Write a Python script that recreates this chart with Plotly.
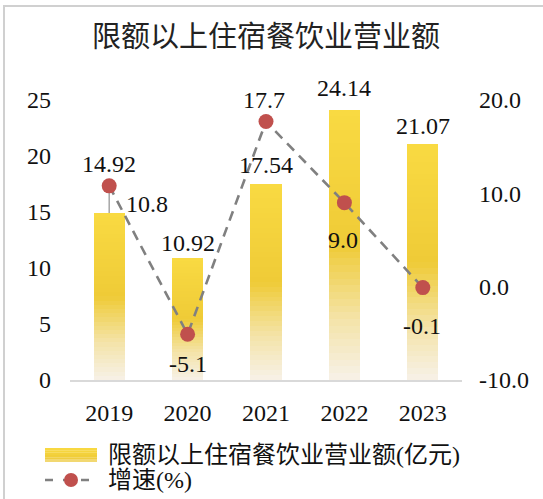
import plotly.graph_objects as go

years = [2019, 2020, 2021, 2022, 2023]
year_labels = ["2019", "2020", "2021", "2022", "2023"]
revenue = [14.92, 10.92, 17.54, 24.14, 21.07]
growth = [10.8, -5.1, 17.7, 9.0, -0.1]
revenue_labels = ["14.92", "10.92", "17.54", "24.14", "21.07"]
growth_labels = ["10.8", "-5.1", "17.7", "9.0", "-0.1"]
left_ticks = [0, 5, 10, 15, 20, 25]
right_ticks = [-10, 0, 10, 20]
right_tick_text = ["-10.0", "0.0", "10.0", "20.0"]
legend_names = ["限额以上住宿餐饮业营业额(亿元)", "增速(%)"]

FONT = "Times New Roman, Liberation Serif, Noto Sans CJK SC, serif"
W, H = 543, 499
ML, MR, MT, MB = 70, 81, 100, 119
PW, PH = W - ML - MR, H - MT - MB


def px(xp):
    return (xp - ML) / PW


def py(yp):
    return (H - MB - yp) / PH


stops = [(0.0, (247, 241, 232)), (0.22, (244, 228, 170)), (0.5, (239, 203, 55)), (1.0, (249, 218, 66))]


def grad(t):
    for (t0, c0), (t1, c1) in zip(stops[:-1], stops[1:]):
        if t0 <= t <= t1:
            f = (t - t0) / (t1 - t0)
            c = [round(a + (b - a) * f) for a, b in zip(c0, c1)]
            return "rgb(%d,%d,%d)" % tuple(c)
    return "rgb(%d,%d,%d)" % stops[-1][1]


N = 40
fig = go.Figure()
for k in range(N):
    fig.add_trace(go.Bar(
        x=years, y=[v / N for v in revenue],
        marker=dict(color=grad((k + 0.5) / N), line=dict(width=0)),
        showlegend=False, hoverinfo="skip",
    ))

fig.add_trace(go.Scatter(
    x=years, y=growth, yaxis="y2", mode="lines+markers",
    line=dict(color="#808080", width=2.6, dash="10px,7px"),
    marker=dict(color="#C0504D", size=15),
    showlegend=False, hoverinfo="skip",
))

annotations = []
bar_shift = [49, 15, 19, 22, 18]
for i, (x, v, t) in enumerate(zip(years, revenue, revenue_labels)):
    annotations.append(dict(x=x, y=v, xref="x", yref="y", text=t, showarrow=False,
                            yanchor="middle", yshift=bar_shift[i],
                            font=dict(family=FONT, size=24, color="#111")))
line_shift = [(38, -18), (0, -30), (-2, 21), (-1, -37), (-1, -38)]
for i, (x, v, t) in enumerate(zip(years, growth, growth_labels)):
    annotations.append(dict(x=x, y=v, xref="x", yref="y2", text=t, showarrow=False,
                            yanchor="middle", xshift=line_shift[i][0], yshift=line_shift[i][1],
                            font=dict(family=FONT, size=24, color="#111")))

legend_rows = [455, 480]
for name, row in zip(legend_names, legend_rows):
    annotations.append(dict(x=px(106), y=py(row), xref="paper", yref="paper", text=name,
                            showarrow=False, xanchor="left", yanchor="middle",
                            font=dict(family=FONT, size=24, color="#111")))

shapes = [
    dict(type="rect", xref="paper", yref="paper", x0=px(4), x1=px(W + 20), y0=py(H + 20), y1=py(6),
         line=dict(color="#D0D0D0", width=2), fillcolor="rgba(0,0,0,0)", layer="below"),
    dict(type="line", xref="x", yref="y", x0=years[0], x1=years[0],
         y0=revenue[0], y1=revenue[0] + 2.9,
         line=dict(color="#A6A6A6", width=1.5), layer="below"),
]

S = 6
y_top, y_bot = 448, 462
for k in range(S):
    a = y_top + (y_bot - y_top) * k / S
    b = y_top + (y_bot - y_top) * (k + 1) / S
    shapes.append(dict(type="rect", xref="paper", yref="paper", x0=px(45), x1=px(97),
                       y0=py(b), y1=py(a), line=dict(width=0),
                       fillcolor=grad(1 - 0.7 * (k + 0.5) / S)))
shapes.append(dict(type="line", xref="paper", yref="paper", x0=px(45), x1=px(97),
                   y0=py(legend_rows[1]), y1=py(legend_rows[1]),
                   line=dict(color="#808080", width=2.6, dash="8px,10px")))
shapes.append(dict(type="circle", xref="paper", yref="paper", x0=px(64), x1=px(78),
                   y0=py(legend_rows[1] + 7), y1=py(legend_rows[1] - 7),
                   line=dict(width=0), fillcolor="#C0504D"))

fig.update_layout(
    width=W, height=H,
    margin=dict(l=ML, r=MR, t=MT, b=MB),
    paper_bgcolor="white", plot_bgcolor="white",
    barmode="stack", bargap=0.6,
    font=dict(family=FONT, size=24, color="#111"),
    title=dict(text="限额以上住宿餐饮业营业额", x=0.5, xref="paper", xanchor="center",
               y=1 - 37 / H, yref="container", yanchor="middle",
               font=dict(family="Noto Sans CJK SC, sans-serif", size=29, color="#222")),
    xaxis=dict(range=[years[0] - 0.5, years[-1] + 0.5], tickvals=years, ticktext=year_labels,
               showgrid=False, zeroline=False, showline=True,
               linecolor="#D9D9D9", linewidth=2, ticks="", ticklabelstandoff=10,
               tickfont=dict(family=FONT, size=24, color="#111")),
    yaxis=dict(range=[0, 25], tickvals=left_ticks, showgrid=False, zeroline=False,
               showline=False, ticks="", ticklabelstandoff=18,
               tickfont=dict(family=FONT, size=24, color="#111")),
    yaxis2=dict(range=[-10, 20], tickvals=right_ticks, ticktext=right_tick_text,
                overlaying="y", side="right", showgrid=False, zeroline=False,
                showline=False, ticks="", ticklabelstandoff=16,
                tickfont=dict(family=FONT, size=24, color="#111")),
    showlegend=False,
    annotations=annotations,
    shapes=shapes,
)

fig.write_html("out.html")
